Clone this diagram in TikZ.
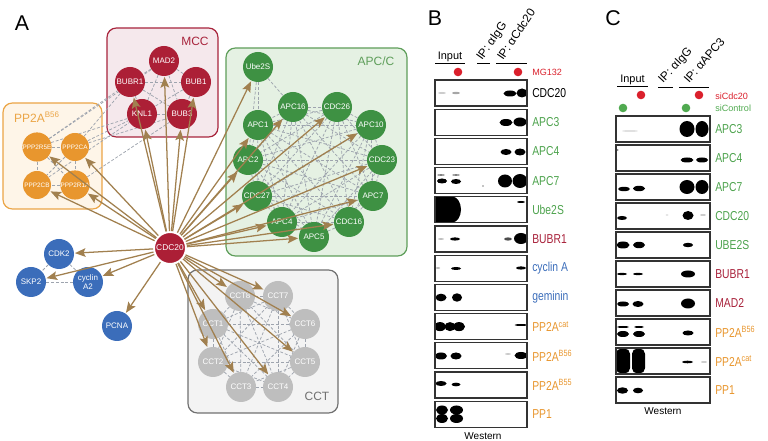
\documentclass[tikz,border=0pt]{standalone}
\usepackage{fontspec}
\setmainfont{Liberation Sans}
\newfontfamily\narrowsans[FakeStretch=0.8]{Liberation Sans}
\usepackage{xcolor}
\usetikzlibrary{arrows.meta,positioning}
\definecolor{mccred}{RGB}{172,31,54}
\definecolor{mccfill}{RGB}{245,232,236}
\definecolor{mccline}{RGB}{168,36,60}
\definecolor{pporange}{RGB}{232,150,46}
\definecolor{ppfill}{RGB}{254,245,232}
\definecolor{ppline}{RGB}{235,165,70}
\definecolor{apcgreen}{RGB}{62,145,67}
\definecolor{apcfill}{RGB}{229,241,227}
\definecolor{apcline}{RGB}{94,158,90}
\definecolor{cycblue}{RGB}{59,109,186}
\definecolor{cctgray}{RGB}{190,190,190}
\definecolor{cctfill}{RGB}{243,243,243}
\definecolor{cctline}{RGB}{112,112,112}
\definecolor{hitbrown}{RGB}{161,128,79}
\definecolor{linkgray}{RGB}{158,164,174}
\definecolor{labgreen}{RGB}{76,162,76}
\definecolor{labred}{RGB}{168,33,58}
\definecolor{dotred}{RGB}{218,32,44}
\definecolor{dotgreen}{RGB}{80,170,80}
\pgfdeclarelayer{boxes}
\pgfdeclarelayer{links}
\pgfsetlayers{boxes,links,main}
% every pair of a cluster
\newcommand\meshlinks[1]{%
  \foreach \a [count=\i] in {#1}{%
    \foreach \b [count=\j] in {#1}{%
      \ifnum\j>\i \draw[link] (\a) -- (\b);\fi}}}
\newcommand\blot[5][black]{\fill[#1] (#2,#3) ellipse [x radius=#4, y radius=#5];}

\begin{document}
\begin{tikzpicture}[x=0.75pt, y=-0.75pt,
  prot/.style={circle, inner sep=0pt, minimum size=22.5pt, text=white,
               align=center, font=\fontsize{6}{6.5}\selectfont},
  mcc/.style={prot, fill=mccred},
  pp/.style={prot, fill=pporange, minimum size=21pt, font=\fontsize{4.8}{5}\selectfont},
  apc/.style={prot, fill=apcgreen},
  cyc/.style={prot, fill=cycblue},
  cct/.style={prot, fill=cctgray},
  cluster/.style={rounded corners=7pt, line width=0.9pt},
  grouplabel/.style={font=\fontsize{9}{10}\selectfont},
  panel/.style={font=\fontsize{16}{18}\selectfont},
  link/.style={draw=linkgray, line width=0.55pt, dash pattern=on 2.2pt off 1.4pt},
  hit/.style={draw=hitbrown, line width=0.95pt, shorten >=0.5pt,
              -{Stealth[length=8pt, width=6.5pt, inset=1.6pt]}},
  blotbox/.style={draw=black!80, line width=0.8pt},
  bandlabel/.style={anchor=west, inner sep=0pt, font=\narrowsans\fontsize{9.7}{11}\selectfont},
  lanehead/.style={font=\fontsize{8.2}{9}\selectfont},
  iphead/.style={anchor=base west, inner sep=0pt, font=\fontsize{8.8}{10}\selectfont},
  treat/.style={anchor=west, inner sep=0pt, font=\fontsize{6.8}{7}\selectfont}
]
\useasboundingbox (0,0) rectangle (768,441);

%% ---------- A: network ----------
\node[panel] at (22,23) {A};

% MCC
\node[mcc] (MAD2) at (164,61) {MAD2};
\node[mcc] (BUBR1) at (130,82) {BUBR1};
\node[mcc] (BUB1) at (196,82) {BUB1};
\node[mcc] (KNL1) at (142,114) {KNL1};
\node[mcc] (BUB3) at (182,114) {BUB3};
% PP2A-B56
\node[pp] (PPP2R5E) at (37,147) {PPP2R5E};
\node[pp] (PPP2CA) at (75,147) {PPP2CA};
\node[pp] (PPP2CB) at (37,185) {PPP2CB};
\node[pp] (PPP2R1A) at (75,185) {PPP2R1A};
% APC/C
\node[apc] (Ube2S) at (258,67) {Ube2S};
\node[apc] (APC16) at (293,107) {APC16};
\node[apc] (CDC26) at (337,107) {CDC26};
\node[apc] (APC1) at (258,125) {APC1};
\node[apc] (APC10) at (371,125) {APC10};
\node[apc] (APC2) at (248,160) {APC2};
\node[apc] (CDC23) at (382,160) {CDC23};
\node[apc] (CDC27) at (257,196) {CDC27};
\node[apc] (APC7) at (373,196) {APC7};
\node[apc] (APC4) at (282,222) {APC4};
\node[apc] (CDC16) at (349,222) {CDC16};
\node[apc] (APC5) at (314,237) {APC5};
% cyclin A
\node[cyc] (CDK2) at (59,254) {CDK2};
\node[cyc] (SKP2) at (31,282) {SKP2};
\node[cyc] (cycA2) at (88,282) {cyclin\\A2};
\node[cyc] (PCNA) at (117,326) {PCNA};
% CCT
\node[cct] (CCT8) at (240,296) {CCT8};
\node[cct] (CCT7) at (278,296) {CCT7};
\node[cct] (CCT1) at (213,324) {CCT1};
\node[cct] (CCT6) at (305,324) {CCT6};
\node[cct] (CCT2) at (213,362) {CCT2};
\node[cct] (CCT5) at (305,362) {CCT5};
\node[cct] (CCT3) at (241,387) {CCT3};
\node[cct] (CCT4) at (278,387) {CCT4};
% bait
\node[prot, fill=mccred, draw=white, line width=1.5pt, minimum size=24pt,
      font=\fontsize{6.3}{7}\selectfont] (CDC20) at (170,248) {CDC20};

\begin{pgfonlayer}{boxes}
  \draw[cluster, draw=mccline, fill=mccfill] (107,28) rectangle (218,137);
  \draw[cluster, draw=ppline, fill=ppfill] (3,103) rectangle (102,209);
  \draw[cluster, draw=apcline, fill=apcfill] (226,48) rectangle (407,256);
  \draw[cluster, draw=cctline, fill=cctfill] (188,270) rectangle (338,413);
\end{pgfonlayer}
\node[grouplabel, text=mccline] at (195,41) {MCC};
\node[grouplabel, text=ppline] at (37,117) {PP2A\textsuperscript{B56}};
\node[grouplabel, text=apcline] at (376,61) {APC/C};
\node[grouplabel, text=cctline] at (317,396) {CCT};

\begin{pgfonlayer}{links}
  \meshlinks{MAD2,BUBR1,BUB1,KNL1,BUB3}
  \meshlinks{PPP2R5E,PPP2CA,PPP2R1A,PPP2CB}
  \foreach \p/\q in {PPP2R5E/BUBR1, PPP2R5E/KNL1, PPP2R5E/MAD2, PPP2CA/BUBR1,
                     PPP2CA/KNL1, PPP2CA/BUB3, PPP2CB/KNL1, PPP2R1A/BUB3}
    \draw[link] (\p) -- (\q);
  \meshlinks{APC16,CDC26,APC1,APC10,APC2,CDC23,CDC27,APC7,APC4,CDC16,APC5}
  \foreach \q in {APC1, APC2, APC16}
    \draw[link] (Ube2S) -- (\q);
  \meshlinks{CCT8,CCT7,CCT1,CCT6,CCT2,CCT5,CCT3,CCT4}
  \meshlinks{CDK2,SKP2,cycA2}
\end{pgfonlayer}

% CDC20 interactions
\foreach \t in {BUBR1, MAD2, BUB1, KNL1, BUB3, PPP2R5E, PPP2CA, PPP2CB, PPP2R1A,
                Ube2S, APC1, APC16, CDC26, APC10, APC2, CDC23, CDC27, APC7, APC4,
                CDC16, APC5, CDK2, SKP2, cycA2, PCNA,
                CCT8, CCT7, CCT1, CCT6, CCT2, CCT5, CCT3, CCT4}
  \draw[hit] (CDC20) -- (\t);

%% ---------- B: IP anti-Cdc20 ----------
\node[panel] at (435,18) {B};
\node[lanehead, anchor=base] at (450,60) {Input};
\draw[line width=0.6pt] (435,63) -- (465,63);
\draw[line width=0.6pt] (477,63) -- (490,63);
\draw[line width=0.6pt] (496,63) -- (527,63);
\node[iphead, rotate=55] at (482,61) {IP: αIgG};
\node[iphead, rotate=56] at (503,61) {IP: αCdc20};
\fill[dotred] (458,72) circle [radius=4.3];
\fill[dotred] (518,72) circle [radius=4.3];
\node[treat, text=dotred] at (532,72) {MG132};

% bands
\blot[black!20]{442}{93}{4}{1}
\blot[black!35]{456}{93}{4}{1.2}
\blot{510}{93.5}{6.5}{3}
\blot{522}{93}{5.5}{4.5}
\blot{506}{122.5}{6.5}{3.5}
\blot{520}{122}{6.5}{4.5}
\blot{506}{152}{5.5}{3}
\blot{520}{152}{5.5}{3.5}
\blot[black!55]{441}{175}{4}{0.8}
\blot[black!55]{456}{175}{4}{0.8}
\blot{442}{181}{5}{2.5}
\blot{456}{181.5}{5}{2.5}
\blot{505}{181}{7}{6.5}
\blot{520}{181}{7.5}{7}
\blot{483}{186}{0.7}{0.7}
\fill (435,196.5) rectangle (452,222.5);
\blot{452}{209.5}{9}{13}
\blot{521}{202}{4}{1}
\blot[black!30]{441}{239}{3}{0.8}
\blot{455}{239}{5}{1.6}
\blot[black!70]{508}{239}{4}{1.6}
\blot{521}{238.5}{7}{5.5}
\blot[black!40]{438}{268}{2}{0.7}
\blot{456}{268.5}{5}{1.5}
\blot{521}{268}{5}{1.6}
\blot{441}{297.5}{5.5}{3.8}
\blot{457}{297.5}{5}{4.2}
\blot{440}{326.6}{6}{4.5}
\blot{450}{326.6}{5.5}{4.5}
\blot{459}{326.6}{6}{4.5}
\blot{521}{325}{6.5}{1}
\blot{441}{356}{6}{3.5}
\blot{456}{356}{5.5}{3.5}
\blot[black!25]{508}{354}{3}{0.8}
\blot{521}{355.5}{6.5}{3.5}
\blot{441}{383.5}{5.5}{2.5}
\blot{456}{384.5}{4.5}{1.8}
\blot{442}{410}{6}{4.5}
\blot{442}{418.5}{6}{4.5}
\blot{456.5}{410}{6.5}{4.5}
\blot{456.5}{418.5}{6.5}{4.5}

\foreach \lab/\col [count=\i from 0] in {CDC20/black, APC3/labgreen, APC4/labgreen,
    APC7/labgreen, Ube2S/labgreen, BUBR1/labred, cyclin A/cycblue, geminin/cycblue,
    {PP2A\textsuperscript{cat}}/pporange, {PP2A\textsuperscript{B56}}/pporange,
    {PP2A\textsuperscript{B55}}/pporange, PP1/pporange}{
  \pgfmathsetmacro\rowtop{80+29.2*\i}
  \draw[blotbox] (435,\rowtop) rectangle ++(92,26);
  \node[bandlabel, text=\col] at (532,\rowtop+13) {\lab};
}
\node[font=\fontsize{7.5}{8}\selectfont] at (483,436) {Western};

%% ---------- C: IP anti-APC3 ----------
\node[panel] at (613,18) {C};
\node[lanehead, anchor=base] at (632.5,83) {Input};
\draw[line width=0.6pt] (617,86) -- (648,86);
\draw[line width=0.6pt] (658,87) -- (673,87);
\draw[line width=0.6pt] (679,87) -- (709,87);
\node[iphead, rotate=47] at (663,84) {IP: αIgG};
\node[iphead, rotate=49] at (689,84) {IP: αAPC3};
\fill[dotred] (641,95) circle [radius=4.3];
\fill[dotred] (699,95) circle [radius=4.3];
\fill[dotgreen] (623,108) circle [radius=4.3];
\fill[dotgreen] (686,108) circle [radius=4.3];
\node[treat, text=dotred] at (715,96) {siCdc20};
\node[treat, text=dotgreen] at (715,108) {siControl};

% bands
\blot[black!12]{630}{131}{8}{1}
\blot{687}{129}{7.5}{8}
\blot{702}{129}{6.5}{8}
\blot[black!50]{617.5}{150}{1}{1}
\blot{687}{160}{6.5}{2.5}
\blot{702}{160}{6}{2.5}
\blot{624}{189}{6}{2.2}
\blot{639}{188.5}{6}{2.7}
\blot{687}{187}{7.5}{7}
\blot{702}{187}{6.5}{7}
\blot{622}{218}{5}{2}
\blot{688}{215.5}{5.5}{4.5}
\blot[black!20]{703}{215}{3}{1}
\blot[black!15]{667}{215}{1.5}{0.8}
\blot{623}{245}{6.5}{3.5}
\blot{639}{245}{6}{3.2}
\blot{688}{245}{5}{2.2}
\blot{622}{274}{5}{1.2}
\blot{638}{274}{5}{1.2}
\blot{688}{274}{7}{3.5}
\blot{623}{304}{6}{2.5}
\blot{638}{304}{5.5}{3}
\blot{688}{303.5}{7}{5}
\blot{623}{327}{6}{1}
\blot{623}{334}{6}{3}
\blot{639}{327}{5}{1}
\blot{639}{334}{6}{3}
\blot{688}{333}{5.5}{2.5}
\fill[rounded corners=4pt] (616,348.5) rectangle (630,373.5);
\fill[rounded corners=4pt] (632,348.5) rectangle (645,373.5);
\blot{687.5}{362}{5.5}{1.3}
\blot[black!30]{704}{362}{3}{0.7}
\blot{622.5}{390.5}{5.5}{3.2}
\blot{638}{390.5}{5}{2.8}

\foreach \lab/\col [count=\i from 0] in {APC3/labgreen, APC4/labgreen, APC7/labgreen,
    CDC20/labgreen, UBE2S/labgreen, BUBR1/labred, MAD2/labred,
    {PP2A\textsuperscript{B56}}/pporange, {PP2A\textsuperscript{cat}}/pporange,
    PP1/pporange}{
  \pgfmathsetmacro\rowtop{116+29*\i}
  \draw[blotbox] (616,\rowtop) rectangle ++(94,26);
  \node[bandlabel, text=\col] at (715,\rowtop+13) {\lab};
}
\node[font=\fontsize{7.5}{8}\selectfont] at (663,411) {Western};
\end{tikzpicture}
\end{document}
